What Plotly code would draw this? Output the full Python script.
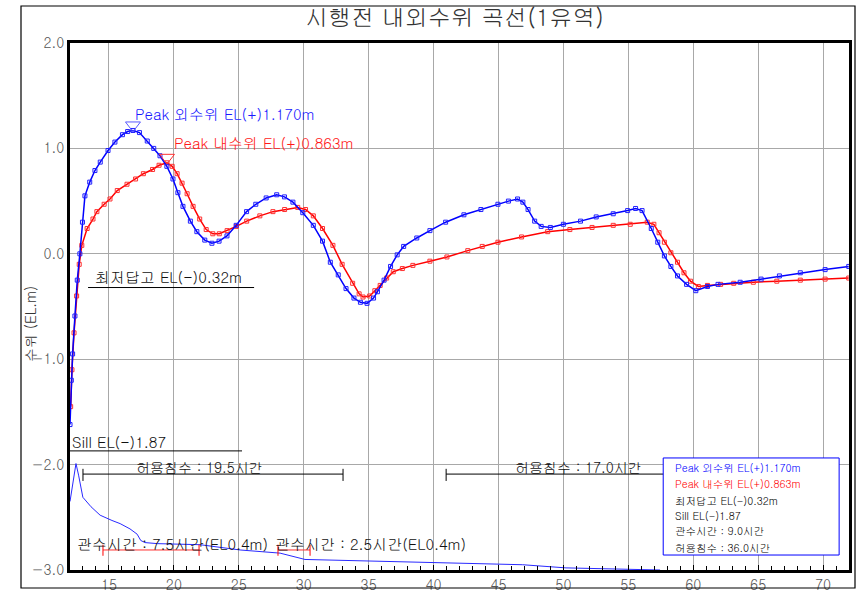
import plotly.graph_objects as go

# ---------------- data ----------------
out_x = [12.0, 12.1, 12.2, 12.38, 12.56, 12.76, 12.96, 13.15, 13.52, 13.92, 14.33, 14.93, 15.46, 16.04,
         16.44, 16.85, 17.35, 17.95, 18.45, 18.93, 19.46, 19.93, 20.31, 20.7, 21.27, 21.77, 22.38, 22.93,
         23.48, 24.09, 24.8, 25.6, 26.31, 27.11, 27.92, 28.52, 29.17, 29.93, 30.74, 31.45, 32.05, 32.66,
         33.26, 33.87, 34.37, 34.88, 35.38, 35.68, 36.19, 36.69, 37.2, 37.7, 38.71, 39.72, 40.93, 42.34,
         43.65, 44.96, 45.77, 46.47, 46.88, 47.28, 47.79, 48.29, 49.0, 50.0, 51.32, 52.53, 53.84, 54.95,
         55.56, 56.06, 56.77, 57.27, 57.78, 58.28, 58.79, 59.49, 60.2, 61.1, 61.91, 63.62, 65.23, 66.64,
         68.25, 70.16, 71.98]
out_y = [-1.62, -1.2, -0.95, -0.59, -0.25, 0.0, 0.30, 0.55, 0.68, 0.79, 0.87, 0.98, 1.06, 1.13,
         1.16, 1.17, 1.15, 1.07, 1.00, 0.93, 0.83, 0.71, 0.58, 0.45, 0.31, 0.21, 0.13, 0.10,
         0.12, 0.17, 0.27, 0.40, 0.47, 0.53, 0.56, 0.54, 0.49, 0.39, 0.27, 0.12, -0.08, -0.20,
         -0.33, -0.42, -0.46, -0.47, -0.42, -0.36, -0.25, -0.12, -0.01, 0.07, 0.15, 0.22, 0.30, 0.37,
         0.42, 0.47, 0.50, 0.52, 0.49, 0.42, 0.31, 0.26, 0.25, 0.28, 0.31, 0.35, 0.38, 0.41,
         0.43, 0.41, 0.24, 0.11, -0.02, -0.12, -0.21, -0.29, -0.35, -0.31, -0.29, -0.27, -0.24, -0.21,
         -0.18, -0.15, -0.12]

in_x = [12.05, 12.15, 12.31, 12.51, 12.71, 12.91, 13.32, 13.77, 14.07, 14.63, 15.08, 15.64, 16.39, 17.05,
        17.65, 18.36, 18.86, 19.47, 19.87, 20.25, 20.63, 21.02, 21.48, 21.99, 22.49, 23.0, 23.5, 24.1,
        24.81, 25.61, 26.62, 27.63, 28.53, 29.54, 30.14, 30.74, 31.45, 32.25, 32.96, 33.77, 34.27, 34.57,
        35.08, 35.48, 35.89, 36.39, 36.9, 37.6, 38.41, 39.72, 41.03, 42.64, 43.75, 44.96, 46.78, 48.79,
        50.5, 52.21, 53.84, 55.15, 56.46, 56.97, 57.37, 57.78, 58.28, 58.79, 59.29, 59.79, 60.4, 61.1,
        62.11, 63.12, 64.63, 66.44, 68.25, 70.16, 71.98]
in_y = [-1.45, -1.1, -0.75, -0.4, -0.1, 0.08, 0.24, 0.33, 0.40, 0.47, 0.52, 0.60, 0.66, 0.71,
        0.76, 0.80, 0.84, 0.863, 0.83, 0.76, 0.67, 0.57, 0.45, 0.33, 0.23, 0.19, 0.19, 0.22,
        0.26, 0.31, 0.36, 0.40, 0.42, 0.44, 0.42, 0.36, 0.24, 0.08, -0.10, -0.28, -0.38, -0.41,
        -0.40, -0.35, -0.30, -0.23, -0.17, -0.14, -0.11, -0.07, -0.03, 0.03, 0.07, 0.11, 0.16, 0.21,
        0.23, 0.25, 0.27, 0.28, 0.30, 0.28, 0.20, 0.11, 0.01, -0.08, -0.18, -0.26, -0.31, -0.30,
        -0.29, -0.28, -0.27, -0.26, -0.25, -0.24, -0.23]

low_x = [12.0, 12.13, 12.31, 12.46, 12.66, 12.99, 13.62, 14.32, 15.23, 15.86, 16.62, 17.17, 17.45, 17.78,
         18.76, 22.02, 25.1, 28.18, 30.1, 33.55, 37.38, 42.33, 46.86, 50.2, 53.84, 57.45]
low_y = [-2.35, -2.25, -2.08, -1.99, -2.1, -2.31, -2.40, -2.48, -2.53, -2.56, -2.61, -2.66, -2.72, -2.74,
         -2.75, -2.76, -2.81, -2.84, -2.90, -2.91, -2.92, -2.94, -2.95, -2.98, -2.99, -3.0]

peak_out = (16.85, 1.17)
peak_in = (19.47, 0.863)
min_bank = -0.32
sill = -1.87

allow_ranges = [(13.0, 33.03, -2.09, "허용침수 : 19.5시간", 22.0),
                (40.97, 57.97, -2.09, "허용침수 : 17.0시간", 51.2)]
flood_ranges = [(14.54, 21.94, -2.81, "관수시간 : 7.5시간(EL0.4m)", 12.35),
                (28.02, 30.49, -2.81, "관수시간 : 2.5시간(EL0.4m)", 27.65)]

legend_lines = ["Peak 외수위 EL(+)1.170m", "Peak 내수위 EL(+)0.863m", "최저답고 EL(-)0.32m",
                "Sill EL(-)1.87", "관수시간 : 9.0시간", "허용침수 : 36.0시간"]
legend_colors = ["#0000ff", "#ff0000", "#000000", "#000000", "#000000", "#000000"]

x_ticks = [15, 20, 25, 30, 35, 40, 45, 50, 55, 60, 65, 70]
y_ticks = [2.0, 1.0, 0.0, -1.0, -2.0, -3.0]

FONT = "Gulim, 'Noto Sans CJK KR', 'DejaVu Sans', sans-serif"

fig = go.Figure()

fig.add_trace(go.Scatter(x=low_x, y=low_y, mode="lines",
                         line=dict(color="#2a2aff", width=1), hoverinfo="skip"))
fig.add_trace(go.Scatter(x=in_x, y=in_y, mode="lines+markers", line=dict(color="#ff0000", width=1.5),
                         marker=dict(symbol="square-open", size=4, color="#ff3030", line=dict(width=1))))
fig.add_trace(go.Scatter(x=out_x, y=out_y, mode="lines+markers", line=dict(color="#0000ff", width=1.5),
                         marker=dict(symbol="square-open", size=4, color="#2020ff", line=dict(width=1))))

# peak triangles
fig.add_trace(go.Scatter(x=[peak_out[0]], y=[peak_out[1] + 0.05], mode="markers",
                         marker=dict(symbol="triangle-down-open", size=13, color="#5a5aff", line=dict(width=1))))
fig.add_trace(go.Scatter(x=[peak_in[0]], y=[peak_in[1] + 0.05], mode="markers",
                         marker=dict(symbol="triangle-down-open", size=13, color="#ff3030", line=dict(width=1))))

shapes = []
annotations = []

annotations.append(dict(x=peak_out[0], y=peak_out[1] + 0.165, text="Peak 외수위 EL(+)1.170m", xanchor="left",
                        yanchor="middle", showarrow=False, font=dict(size=15, color="#1a1aff", family=FONT)))
annotations.append(dict(x=peak_in[0] + 0.39, y=peak_in[1] + 0.19, text="Peak 내수위 EL(+)0.863m", xanchor="left",
                        yanchor="middle", showarrow=False, font=dict(size=15, color="#ff1a1a", family=FONT)))

# minimum bank line
shapes.append(dict(type="line", xref="x", yref="y", x0=13.39, x1=26.18, y0=min_bank, y1=min_bank,
                   line=dict(color="black", width=1)))
annotations.append(dict(x=13.75, y=min_bank + 0.1, text="최저답고 EL(-)0.32m", xanchor="left", yanchor="middle",
                        showarrow=False, font=dict(size=15, color="#111", family=FONT)))
# sill line
shapes.append(dict(type="line", xref="x", yref="y", x0=12.0, x1=25.25, y0=sill, y1=sill,
                   line=dict(color="black", width=1)))
annotations.append(dict(x=12.0, y=sill + 0.09, text="Sill EL(-)1.87", xanchor="left", yanchor="middle",
                        showarrow=False, font=dict(size=15, color="#111", family=FONT)))

for x0, x1, yv, txt, tx in allow_ranges:
    shapes.append(dict(type="line", xref="x", yref="y", x0=x0, x1=x1, y0=yv, y1=yv, line=dict(color="black", width=1)))
    for xx in (x0, x1):
        shapes.append(dict(type="line", xref="x", yref="y", x0=xx, x1=xx, y0=yv - 0.065, y1=yv + 0.05,
                           line=dict(color="black", width=1)))
    annotations.append(dict(x=tx, y=yv + 0.065, text=txt, xanchor="center", yanchor="middle", showarrow=False,
                            font=dict(size=14, color="#111", family=FONT)))

for x0, x1, yv, txt, tx in flood_ranges:
    shapes.append(dict(type="line", xref="x", yref="y", x0=x0, x1=x1, y0=yv, y1=yv, line=dict(color="#ff3030", width=1)))
    for xx in (x0, x1):
        shapes.append(dict(type="line", xref="x", yref="y", x0=xx, x1=xx, y0=yv - 0.055, y1=yv + 0.05,
                           line=dict(color="#ff0000", width=1)))
    annotations.append(dict(x=tx, y=yv + 0.06, text=txt, xanchor="left", yanchor="middle", showarrow=False,
                            font=dict(size=15, color="#111", family=FONT)))

# legend box
shapes.append(dict(type="rect", xref="x", yref="y", x0=57.69, x1=71.24, y0=-2.858, y1=-1.937,
                   line=dict(color="#0000ff", width=1), fillcolor="white", layer="above"))
leg_y = [-2.023, -2.175, -2.337, -2.479, -2.621, -2.783]
for t, c, yy in zip(legend_lines, legend_colors, leg_y):
    annotations.append(dict(x=58.46, y=yy, text=t, xanchor="left", yanchor="middle", showarrow=False,
                            font=dict(size=10.5, color=c, family=FONT)))

# outer frame
shapes.append(dict(type="rect", xref="paper", yref="paper", x0=-49 / 779, x1=(855 - 70) / 779,
                   y0=-(588 - 570) / 527, y1=(570 - 6) / 527, line=dict(color="black", width=1.2)))

annotations.append(dict(xref="paper", yref="paper", x=(454 - 70) / 779, y=(570 - 16) / 527,
                        text="시행전 내외수위 곡선(1유역)", xanchor="center", yanchor="middle", showarrow=False,
                        font=dict(size=23, color="#333", family=FONT)))
annotations.append(dict(xref="paper", yref="paper", x=-(70 - 30) / 779, y=(570 - 324) / 527,
                        text="수위 (EL.m)", textangle=-90, xanchor="center", yanchor="middle", showarrow=False,
                        font=dict(size=14, color="#333", family=FONT)))

fig.update_layout(
    width=862, height=597, autosize=False,
    margin=dict(l=70, r=13, t=43, b=27),
    paper_bgcolor="white", plot_bgcolor="white",
    showlegend=False,
    shapes=shapes, annotations=annotations,
    font=dict(family=FONT),
)
fig.update_xaxes(range=[12, 72], tickvals=x_ticks, ticktext=[str(v) for v in x_ticks], automargin=False,
                 showgrid=True, gridcolor="#a8a8a8", gridwidth=1, zeroline=False,
                 showline=True, linecolor="black", linewidth=3, mirror=True,
                 ticks="inside", ticklen=5, tickcolor="black",
                 minor=dict(dtick=1, tick0=0, ticks="inside", ticklen=4, tickcolor="black", showgrid=False),
                 tickfont=dict(size=14, color="#555", family=FONT))
fig.update_yaxes(range=[-3, 2], tickvals=y_ticks, ticktext=[f"{v:.1f}".replace("-", "\u2212") for v in y_ticks],
                 automargin=False,
                 showgrid=True, gridcolor="#a8a8a8", gridwidth=1, zeroline=False,
                 showline=True, linecolor="black", linewidth=3, mirror=True,
                 ticks="", tickfont=dict(size=14, color="#555", family=FONT))

fig.write_html("out.html")
